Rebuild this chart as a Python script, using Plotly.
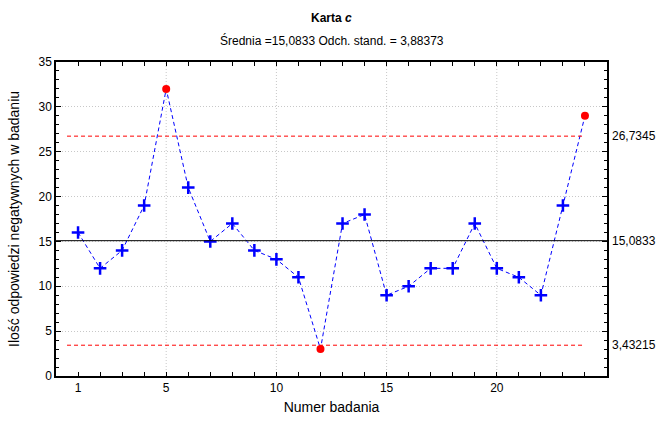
import plotly.graph_objects as go

sample = list(range(1, 25))
counts = [16, 12, 14, 19, 32, 21, 15, 17, 14, 13, 11, 3, 17, 18, 9, 10, 12, 12, 17, 12, 11, 9, 19, 29]
center = 15.0833
ucl = 26.7345
lcl = 3.43215
x_ticks = [1, 5, 10, 15, 20]
x_grid = [5, 10, 15, 20]
limit_labels = ["26,7345", "15,0833", "3,43215"]
title_text = "<b>Karta <i>c</i></b>"
subtitle_text = "Średnia =15,0833 Odch. stand. = 3,88373"

FONT = "Liberation Sans, Arial, sans-serif"

inside_x = [x for x, c in zip(sample, counts) if lcl <= c <= ucl]
inside_y = [c for c in counts if lcl <= c <= ucl]
out_x = [x for x, c in zip(sample, counts) if not (lcl <= c <= ucl)]
out_y = [c for c in counts if not (lcl <= c <= ucl)]

fig = go.Figure()
fig.add_trace(go.Scatter(x=sample, y=counts, mode="lines",
                         line=dict(color="#0000ff", width=1, dash="4px,3px"),
                         hoverinfo="skip", showlegend=False))
fig.add_trace(go.Scatter(x=inside_x, y=inside_y, mode="markers",
                         marker=dict(symbol="cross-thin", size=9, color="#0000ff",
                                     line=dict(color="#0000ff", width=2.5)),
                         showlegend=False))
fig.add_trace(go.Scatter(x=out_x, y=out_y, mode="markers",
                         marker=dict(symbol="circle", size=8, color="#ff0000",
                                     line=dict(width=0)),
                         showlegend=False))
# invisible trace to anchor mirror axes (top / right) for tick marks
fig.add_trace(go.Scatter(x=[sample[0]], y=[counts[0]], xaxis="x2", yaxis="y2",
                         mode="markers", marker=dict(opacity=0), hoverinfo="skip",
                         showlegend=False))

# vertical grid lines
for gx in x_grid:
    fig.add_shape(type="line", xref="x", yref="y", x0=gx, x1=gx, y0=0, y1=35,
                  line=dict(color="#c8c8c8", width=1, dash="1px,2px"), layer="below")

# control limits
x_start = min(sample) - 0.5
x_end = max(sample)
for lv in (ucl, lcl):
    fig.add_shape(type="line", xref="x", yref="y", x0=x_start, x1=x_end, y0=lv, y1=lv,
                  line=dict(color="#ff0000", width=1, dash="4px,3px"))
fig.add_shape(type="line", xref="paper", yref="y", x0=0, x1=1, y0=center, y1=center,
              line=dict(color="#000000", width=1))

for lv, lab in zip((ucl, center, lcl), limit_labels):
    fig.add_annotation(x=1, xref="paper", y=lv, yref="y", text=lab, showarrow=False,
                       xanchor="left", xshift=3, font=dict(family=FONT, size=12, color="#000"))

# titles (positioned relative to plot area: height 314 px, bottom at 376 px)
fig.add_annotation(x=0.5, xref="paper", y=(376 - 18) / 314, yref="paper", text=title_text,
                   showarrow=False, yanchor="middle", font=dict(family=FONT, size=12, color="#000"))
fig.add_annotation(x=0.5, xref="paper", y=(376 - 41) / 314, yref="paper", text=subtitle_text,
                   showarrow=False, yanchor="middle", font=dict(family=FONT, size=12, color="#000"))

fig.update_layout(
    width=664, height=421,
    margin=dict(l=56, r=57, t=62, b=45, autoexpand=False),
    paper_bgcolor="white", plot_bgcolor="white",
    font=dict(family=FONT, size=12, color="#000"),
    xaxis=dict(range=[0, 25], tickvals=x_ticks, ticks="inside", ticklen=4, tickcolor="#000",
               showgrid=False, zeroline=False, showline=True, linecolor="#000", linewidth=1.5,
               mirror=True, automargin=False,
               minor=dict(dtick=1, tick0=0, ticks="inside", ticklen=4, tickcolor="#000", showgrid=False),
               title=dict(text="Numer badania", standoff=8),
               tickfont=dict(size=12)),
    yaxis=dict(range=[0, 35], dtick=5, ticks="inside", ticklen=5, tickcolor="#000",
               showgrid=True, gridcolor="#c8c8c8", griddash="1px,2px", gridwidth=1,
               zeroline=False, showline=True, linecolor="#000", linewidth=1.5,
               mirror=True, automargin=False,
               minor=dict(dtick=1, ticks="inside", ticklen=3, tickcolor="#000", showgrid=False),
               title=dict(text="Ilość odpowiedzi negatywnych w badaniu", standoff=16),
               tickfont=dict(size=12)),
    xaxis2=dict(range=[0, 25], overlaying="x", side="top", anchor="y", tickvals=x_ticks,
                ticks="inside", ticklen=4, tickcolor="#000", showticklabels=False,
                showgrid=False, zeroline=False, showline=False, automargin=False,
                minor=dict(dtick=1, tick0=0, ticks="inside", ticklen=4, tickcolor="#000", showgrid=False)),
    yaxis2=dict(range=[0, 35], overlaying="y", side="right", anchor="x", dtick=5,
                ticks="inside", ticklen=5, tickcolor="#000", showticklabels=False,
                showgrid=False, zeroline=False, showline=False, automargin=False,
                minor=dict(dtick=1, ticks="inside", ticklen=3, tickcolor="#000", showgrid=False)),
)

fig.write_html("out.html", config={"displayModeBar": False},
               post_script="document.body.style.margin='0';")
